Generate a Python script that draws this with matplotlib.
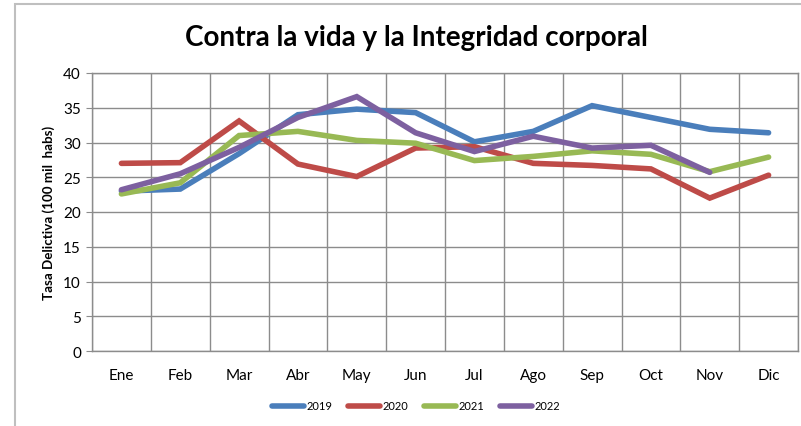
import matplotlib
matplotlib.use("Agg")
import matplotlib.pyplot as plt
from matplotlib.patches import Rectangle

plt.rcParams['font.family'] = ['Lato', 'DejaVu Sans']

meses = ["Ene", "Feb", "Mar", "Abr", "May", "Jun", "Jul", "Ago", "Sep", "Oct", "Nov", "Dic"]
v2019 = [23.0, 23.3, 28.4, 34.0, 34.8, 34.3, 30.1, 31.6, 35.3, 33.6, 31.9, 31.4]
v2020 = [27.0, 27.1, 33.1, 26.9, 25.1, 29.2, 29.4, 27.0, 26.7, 26.2, 22.0, 25.3]
v2021 = [22.6, 24.2, 31.0, 31.6, 30.3, 29.9, 27.4, 28.0, 28.8, 28.3, 25.8, 27.9]
v2022 = [23.2, 25.5, 29.3, 33.6, 36.6, 31.4, 28.7, 30.9, 29.2, 29.6, 25.7]
series = [("2019", v2019, "#4a7ebb"), ("2020", v2020, "#be4b48"),
          ("2021", v2021, "#98b954"), ("2022", v2022, "#7d60a0")]

W, H = 801, 427
fig = plt.figure(figsize=(W / 100, H / 100), dpi=100)
# outer chart frame
fig.patches.append(Rectangle((15 / W, -0.05), 1.0, 1 - 5 / H + 0.05, transform=fig.transFigure,
                             fill=False, edgecolor="#bfbfbf", linewidth=1.5))

ax = fig.add_axes([92 / W, 1 - 352 / H, (798 - 92) / W, (352 - 74) / H])
x = list(range(len(meses)))
for name, vals, col in series:
    ax.plot(x[:len(vals)], vals, color=col, linewidth=4, solid_capstyle='round',
            solid_joinstyle='miter', label=name)

ax.set_xlim(-0.5, 11.5)
ax.set_ylim(0, 40)
ax.set_yticks(range(0, 41, 5))
ax.set_xticks(x)
ax.set_xticklabels(meses)
ax.set_xticks([i - 0.5 for i in range(13)], minor=True)
ax.grid(False)
ax.grid(True, which='minor', axis='x', color='#8c8c8c', linewidth=1)
ax.grid(True, which='major', axis='y', color='#8c8c8c', linewidth=1)
ax.set_axisbelow(True)
for s in ax.spines.values():
    s.set_color('#8c8c8c')
    s.set_linewidth(1)
ax.tick_params(axis='x', which='both', length=0, labelsize=11, pad=12)
ax.tick_params(axis='y', length=4, color='#8c8c8c', labelsize=11, pad=4)

ax.set_ylabel("Tasa Delictiva (100 mil  habs)", fontsize=9.6, fontweight='bold', labelpad=6)
fig.text(416 / W, 1 - 38 / H, "Contra la vida y la Integridad corporal", ha='center', va='center',
         fontsize=20, fontweight='bold')

fig.legend(loc='center', bbox_to_anchor=(416 / W, 1 - 407 / H), ncol=4, frameon=False,
           fontsize=8, handlelength=2.9, handletextpad=0.2, columnspacing=1.4)

fig.savefig("out.png", dpi=100)
